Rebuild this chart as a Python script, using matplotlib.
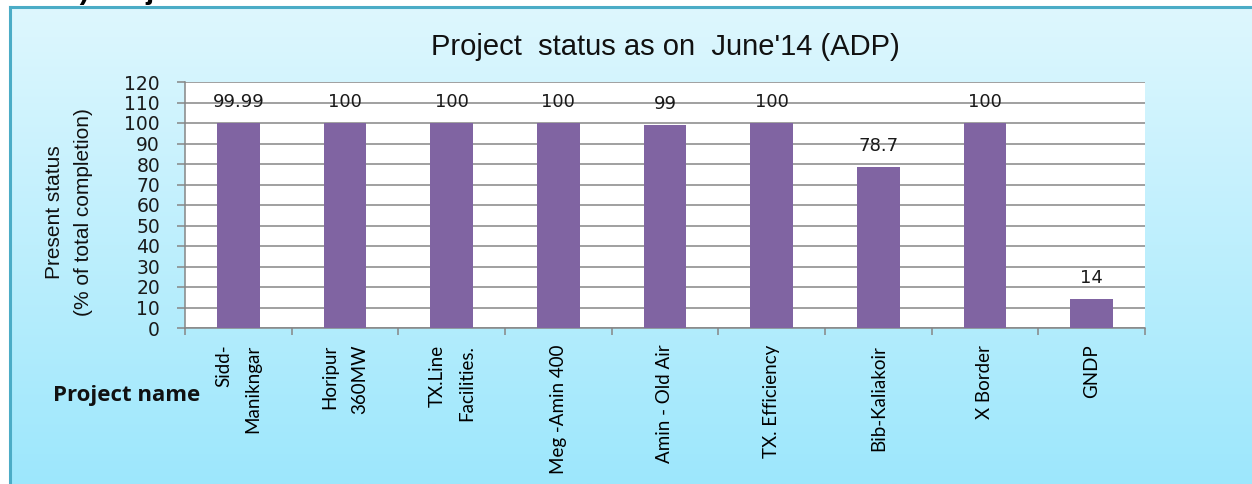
import numpy as np
import matplotlib.pyplot as plt
from matplotlib.lines import Line2D

projects = ['Sidd-\nManikngar', 'Horipur\n360MW', 'TX.Line\nFacilities.', 'Meg -Amin 400',
            'Amin - Old Air', 'TX. Efficiency', 'Bib-Kaliakoir', 'X Border', 'GNDP']
status = [99.99, 100, 100, 100, 99, 100, 78.7, 100, 14]
status_labels = ['99.99', '100', '100', '100', '99', '100', '78.7', '100', '14']
yticks = list(range(0, 121, 10))

W, H = 1252, 484
fig = plt.figure(figsize=(W / 100, H / 100), dpi=100)
fig.patch.set_facecolor('white')

# gradient panel behind the chart
bg = fig.add_axes([10 / W, 0, 1 - 10 / W, 1 - 7 / H])
grad = np.linspace(0, 1, 256).reshape(-1, 1)
top_c = np.array([0xde, 0xf7, 0xfe]) / 255
bot_c = np.array([0x9d, 0xe7, 0xfc]) / 255
img = top_c[None, None, :] * (1 - grad[:, :, None]) + bot_c[None, None, :] * grad[:, :, None]
bg.imshow(img, aspect='auto', extent=[0, 1, 0, 1])
bg.set_axis_off()
bg.set_zorder(-1)

# panel border (left and top)
fig.add_artist(Line2D([10 / W, 10 / W], [0, 1 - 7 / H], color='#4bacc6', lw=2.2))
fig.add_artist(Line2D([10 / W, 1], [1 - 7 / H, 1 - 7 / H], color='#4bacc6', lw=2.2))

# heading above the panel, mostly outside the picture (only descenders show)
fig.text(62 / W, 1 + 1 / H, 'b) Project Status', fontsize=21, fontweight='bold',
         family='Liberation Sans', va='baseline', color='black')

ax = fig.add_axes([185 / W, 1 - 328 / H, 960 / W, 246 / H])
ax.set_facecolor('white')
x = np.arange(len(projects))
ax.bar(x, status, width=0.4, color='#8064a2', zorder=3)
for xi, v, lab in zip(x, status, status_labels):
    ax.annotate(lab, (xi, v), xytext=(0, 15), textcoords='offset points',
                ha='center', va='center', fontsize=13, family='DejaVu Sans',
                color='#1a1a1a', zorder=4)

ax.set_xlim(-0.5, len(projects) - 0.5)
ax.set_ylim(0, 120)
ax.set_yticks(yticks)
ax.set_yticklabels([str(t) for t in yticks], fontsize=13.5, family='DejaVu Sans', color='#1a1a1a')
ax.yaxis.grid(True, color='#868686', lw=1.1, zorder=1)
ax.set_axisbelow(True)

ax.set_xticks(x)
ax.set_xticklabels(projects, rotation=90, ha='center', va='top', fontsize=13.5,
                   family='Lato', multialignment='right', linespacing=1.9)
ax.set_xticks(np.arange(len(projects) + 1) - 0.5, minor=True)
ax.tick_params(axis='x', which='major', length=0, pad=12)
ax.tick_params(axis='x', which='minor', length=5, color='#868686', width=1.1)
ax.tick_params(axis='y', length=6, color='#868686', width=1.1, pad=12)

for side in ['top', 'right']:
    ax.spines[side].set_visible(False)
for side in ['left', 'bottom']:
    ax.spines[side].set_color('#868686')
    ax.spines[side].set_linewidth(1.1)

fig.text(665 / W, 1 - 47 / H, "Project  status as on  June'14 (ADP)", fontsize=21,
         family='Liberation Sans', ha='center', va='center', color='#111111')
fig.text(69 / W, 1 - 212 / H, 'Present status\n(% of total completion)', rotation=90,
         fontsize=15, family='Liberation Sans', ha='center', va='center',
         multialignment='center', linespacing=1.65, color='#111111')
fig.text(200 / W, 1 - 395 / H, 'Project name', fontsize=16, fontweight='bold',
         family='Open Sans', ha='right', va='center', color='#111111')

fig.savefig('out.png', dpi=100)
